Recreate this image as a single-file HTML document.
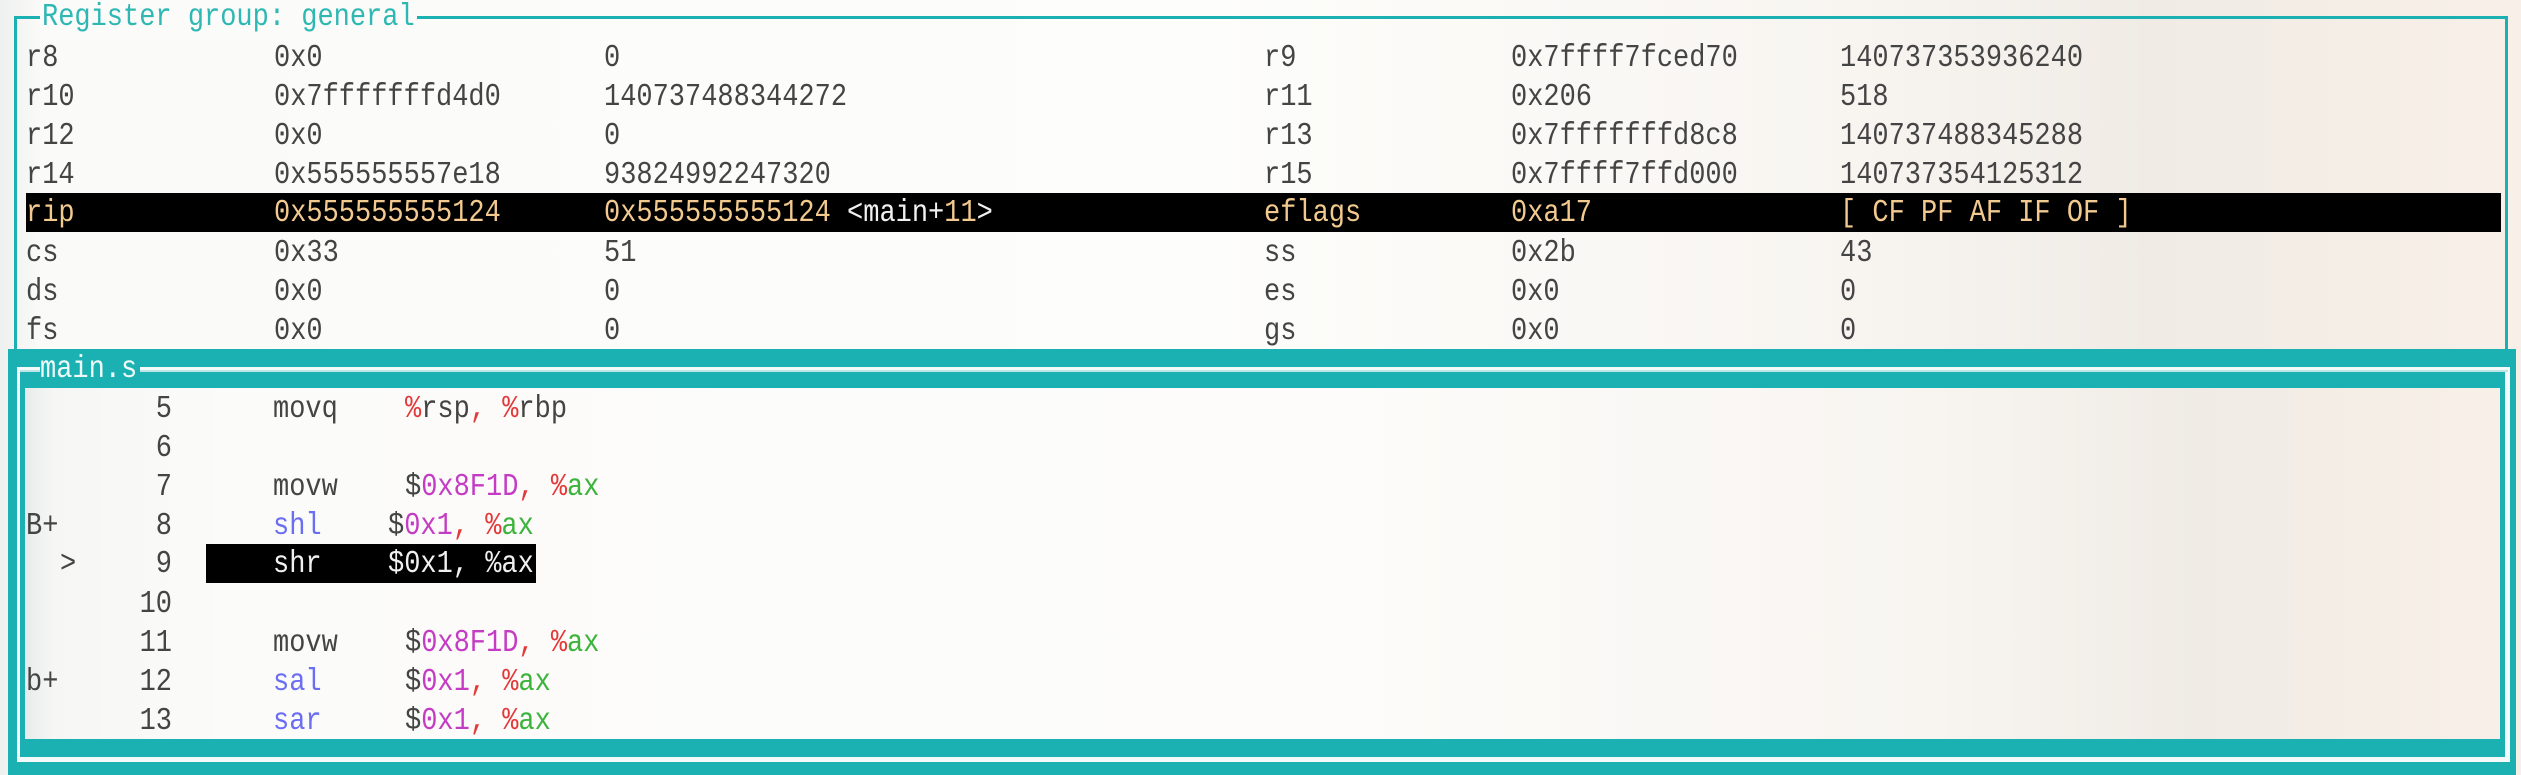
<!DOCTYPE html>
<html><head><meta charset="utf-8"><style>
html,body{margin:0;padding:0;}
body{width:2521px;height:775px;position:relative;overflow:hidden;
background:linear-gradient(90deg,#eef0ef 0px,#fafaf8 40px,#fdfdfb 1200px,#f8f5f1 1850px,#f0ebe5 2150px,#f8f0e8 2521px);
font-family:"Liberation Mono",monospace;}
.t{position:absolute;font-size:27px;line-height:39px;height:39px;white-space:pre;color:#444;transform:scaleY(1.15);transform-origin:center;}
.hl{position:absolute;background:#000;}
.teal{position:absolute;background:#1bb1b2;}
.w{color:#f0f0f0}
.o{color:#f2c98e}
.r{color:#e23a3a}
.m{color:#c43cc4}
.g{color:#3cb43c}
.b{color:#6b6ef2}
</style></head><body>

<!-- upper panel frame -->
<div style="position:absolute;left:14px;top:16px;width:2494px;height:3px;background:#1bb1b2"></div>
<div style="position:absolute;left:14px;top:16px;width:3px;height:334px;background:#1bb1b2"></div>
<div style="position:absolute;left:2505px;top:16px;width:3px;height:334px;background:#1bb1b2"></div>
<div class="t" style="left:40px;top:-1px;color:#2fb7b4;background:#fbfbf9;padding:0 2px">Register group: general</div>

<!-- highlight row rip -->
<div class="hl" style="left:26px;top:193px;width:2475px;height:39px"></div>

<!-- left registers -->
<div class="t" style="left:26px;top:40px">r8</div><div class="t" style="left:274px;top:40px">0x0</div><div class="t" style="left:604px;top:40px">0</div>
<div class="t" style="left:26px;top:79px">r10</div><div class="t" style="left:274px;top:79px">0x7fffffffd4d0</div><div class="t" style="left:604px;top:79px">140737488344272</div>
<div class="t" style="left:26px;top:118px">r12</div><div class="t" style="left:274px;top:118px">0x0</div><div class="t" style="left:604px;top:118px">0</div>
<div class="t" style="left:26px;top:157px">r14</div><div class="t" style="left:274px;top:157px">0x555555557e18</div><div class="t" style="left:604px;top:157px">93824992247320</div>
<div class="t o" style="left:26px;top:195px">rip</div><div class="t o" style="left:274px;top:195px">0x555555555124</div><div class="t" style="left:604px;top:195px"><span class="o">0x555555555124</span><span class="w"> &lt;main+</span><span class="o">11</span><span class="w">&gt;</span></div>
<div class="t" style="left:26px;top:235px">cs</div><div class="t" style="left:274px;top:235px">0x33</div><div class="t" style="left:604px;top:235px">51</div>
<div class="t" style="left:26px;top:274px">ds</div><div class="t" style="left:274px;top:274px">0x0</div><div class="t" style="left:604px;top:274px">0</div>
<div class="t" style="left:26px;top:313px">fs</div><div class="t" style="left:274px;top:313px">0x0</div><div class="t" style="left:604px;top:313px">0</div>

<!-- right registers -->
<div class="t" style="left:1264px;top:40px">r9</div><div class="t" style="left:1511px;top:40px">0x7ffff7fced70</div><div class="t" style="left:1840px;top:40px">140737353936240</div>
<div class="t" style="left:1264px;top:79px">r11</div><div class="t" style="left:1511px;top:79px">0x206</div><div class="t" style="left:1840px;top:79px">518</div>
<div class="t" style="left:1264px;top:118px">r13</div><div class="t" style="left:1511px;top:118px">0x7fffffffd8c8</div><div class="t" style="left:1840px;top:118px">140737488345288</div>
<div class="t" style="left:1264px;top:157px">r15</div><div class="t" style="left:1511px;top:157px">0x7ffff7ffd000</div><div class="t" style="left:1840px;top:157px">140737354125312</div>
<div class="t o" style="left:1264px;top:195px">eflags</div><div class="t o" style="left:1511px;top:195px">0xa17</div><div class="t o" style="left:1840px;top:195px">[ CF PF AF IF OF ]</div>
<div class="t" style="left:1264px;top:235px">ss</div><div class="t" style="left:1511px;top:235px">0x2b</div><div class="t" style="left:1840px;top:235px">43</div>
<div class="t" style="left:1264px;top:274px">es</div><div class="t" style="left:1511px;top:274px">0x0</div><div class="t" style="left:1840px;top:274px">0</div>
<div class="t" style="left:1264px;top:313px">gs</div><div class="t" style="left:1511px;top:313px">0x0</div><div class="t" style="left:1840px;top:313px">0</div>

<!-- lower panel frames -->
<div class="teal" style="left:8px;top:349px;width:2508px;height:18px"></div>
<div class="teal" style="left:8px;top:349px;width:9px;height:426px"></div>
<div class="teal" style="left:2510px;top:349px;width:6px;height:426px"></div>
<div class="teal" style="left:8px;top:762px;width:2508px;height:13px"></div>
<div style="position:absolute;left:17px;top:367px;width:2493px;height:395px;background:#f4fafa"></div>
<div style="position:absolute;left:20px;top:370px;width:2488px;height:2px;background:#bfe6e6"></div>
<div class="teal" style="left:20px;top:372px;width:2485px;height:16px"></div>
<div class="teal" style="left:20px;top:372px;width:5px;height:385px"></div>
<div class="teal" style="left:2500px;top:372px;width:5px;height:385px"></div>
<div class="teal" style="left:20px;top:739px;width:2485px;height:18px"></div>
<div style="position:absolute;left:25px;top:388px;width:2475px;height:351px;background:linear-gradient(90deg,#e9ebeb 0px,#f6f7f5 30px,#fbfbf9 200px,#fdfcfa 1300px,#f8f5f1 1900px,#f0ebe5 2170px,#f8f0e8 2475px)"></div>
<div style="position:absolute;left:40px;top:360px;width:100px;height:24px;background:#1bb1b2"></div>
<div class="t" style="left:40px;top:351px;color:#eefafa">main.s</div>

<!-- code -->
<div class="hl" style="left:206px;top:544px;width:330px;height:39px"></div>

<div class="t" style="left:100px;top:391px;width:72px;text-align:right">5</div>
<div class="t" style="left:273px;top:391px">movq</div><div class="t" style="left:405px;top:391px"><span class="r">%</span>rsp<span class="r">, %</span>rbp</div>

<div class="t" style="left:100px;top:430px;width:72px;text-align:right">6</div>

<div class="t" style="left:100px;top:469px;width:72px;text-align:right">7</div>
<div class="t" style="left:273px;top:469px">movw</div><div class="t" style="left:405px;top:469px">$<span class="m">0x8F1D</span><span class="r">, %</span><span class="g">ax</span></div>

<div class="t" style="left:26px;top:508px">B+</div>
<div class="t" style="left:100px;top:508px;width:72px;text-align:right">8</div>
<div class="t b" style="left:273px;top:508px">shl</div><div class="t" style="left:388px;top:508px">$<span class="m">0x1</span><span class="r">, %</span><span class="g">ax</span></div>

<div class="t" style="left:60px;top:546px">&gt;</div>
<div class="t" style="left:100px;top:546px;width:72px;text-align:right">9</div>
<div class="t w" style="left:273px;top:546px">shr</div><div class="t w" style="left:388px;top:546px">$0x1, %ax</div>

<div class="t" style="left:100px;top:586px;width:72px;text-align:right">10</div>

<div class="t" style="left:100px;top:625px;width:72px;text-align:right">11</div>
<div class="t" style="left:273px;top:625px">movw</div><div class="t" style="left:405px;top:625px">$<span class="m">0x8F1D</span><span class="r">, %</span><span class="g">ax</span></div>

<div class="t" style="left:26px;top:664px">b+</div>
<div class="t" style="left:100px;top:664px;width:72px;text-align:right">12</div>
<div class="t b" style="left:273px;top:664px">sal</div><div class="t" style="left:405px;top:664px">$<span class="m">0x1</span><span class="r">, %</span><span class="g">ax</span></div>

<div class="t" style="left:100px;top:703px;width:72px;text-align:right">13</div>
<div class="t b" style="left:273px;top:703px">sar</div><div class="t" style="left:405px;top:703px">$<span class="m">0x1</span><span class="r">, %</span><span class="g">ax</span></div>

</body></html>
